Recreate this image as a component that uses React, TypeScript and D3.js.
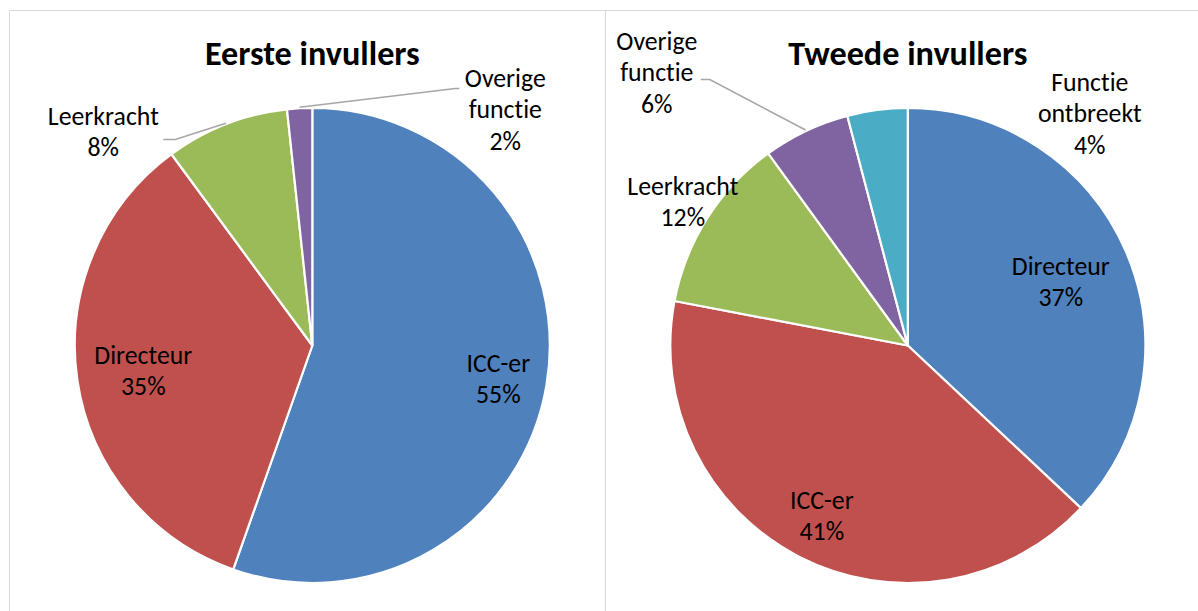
import React from "react";
import * as d3 from "d3";

// ---------- data ----------
const pie1Title = "Eerste invullers";
const pie1Categories = ["ICC-er", "Directeur", "Leerkracht", "Overige functie"];
const pie1Values = [55.4, 34.5, 8.4, 1.7];
const pie1Labels = ["55%", "35%", "8%", "2%"];

const pie2Title = "Tweede invullers";
const pie2Categories = ["Directeur", "ICC-er", "Leerkracht", "Overige functie", "Functie ontbreekt"];
const pie2Values = [37.0, 41.0, 12.0, 5.9, 4.1];
const pie2Labels = ["37%", "41%", "12%", "6%", "4%"];

const pie1Colors = ["#4F81BD", "#C0504D", "#9BBB59", "#8064A2"];
const pie2Colors = ["#4F81BD", "#C0504D", "#9BBB59", "#8064A2", "#4BACC6"];

// ---------- layout ----------
const W = 1198;
const H = 611;
const R = 237.5;
const FONT = "Carlito, Calibri, Lato, 'Open Sans', sans-serif";

type LabelLayout = { lines: string[]; x: number; y: number; leader?: [number, number][] };

// label positions relative to pie centre (x = text centre, y = first baseline)
const pie1Layout: LabelLayout[] = [
  { lines: ["ICC-er"], x: 186, y: 26 },
  { lines: ["Directeur"], x: -169, y: 18 },
  { lines: ["Leerkracht"], x: -209, y: -221, leader: [[-137, -206], [-149, -206]] },
  { lines: ["Overige", "functie"], x: 193, y: -259, leader: [[143, -257], [147, -257]] },
];
const pie2Layout: LabelLayout[] = [
  { lines: ["Directeur"], x: 153, y: -71 },
  { lines: ["ICC-er"], x: -86, y: 163 },
  { lines: ["Leerkracht"], x: -225, y: -151 },
  { lines: ["Overige", "functie"], x: -251, y: -296, leader: [[-198, -266], [-207, -266]] },
  { lines: ["Functie", "ontbreekt"], x: 182, y: -255 },
];

const LINE_H = 31.5;

function Pie({
  cx, cy, title, values, labels, colors, layout,
}: {
  cx: number; cy: number; title: string; values: number[]; labels: string[]; colors: string[]; layout: LabelLayout[];
}) {
  const pie = d3.pie<number>().sort(null).value((d) => d)(values);
  const arc = d3.arc<d3.PieArcDatum<number>>().innerRadius(0).outerRadius(R);
  return (
    <g transform={`translate(${cx},${cy})`}>
      <text x={0} y={-281} textAnchor="middle" fontFamily={FONT} fontWeight="bold" fontSize={34.2} fill="#000"
        style={{ fontVariantLigatures: "none" }}>
        {title}
      </text>
      {pie.map((p, i) => (
        <path key={i} d={arc(p) || ""} fill={colors[i]} stroke="#fff" strokeWidth={2.2} strokeLinejoin="round" />
      ))}
      {pie.map((p, i) => {
        const L = layout[i];
        if (!L.leader) return null;
        const mid = (p.startAngle + p.endAngle) / 2;
        const sx = Math.sin(mid) * (R + 1);
        const sy = -Math.cos(mid) * (R + 1);
        const pts: [number, number][] = [[sx, sy], ...L.leader];
        return (
          <polyline key={"l" + i} points={pts.map((q) => q.join(",")).join(" ")} fill="none" stroke="#A6A6A6" strokeWidth={1.5} />
        );
      })}
      {layout.map((L, i) => (
        <text key={"t" + i} textAnchor="middle" fontFamily={FONT} fontSize={25.8} fill="#000"
          style={{ fontVariantLigatures: "none" }}>
          {[...L.lines, labels[i]].map((s, k) => (
            <tspan key={k} x={L.x} y={L.y + k * LINE_H}>
              {s}
            </tspan>
          ))}
        </text>
      ))}
    </g>
  );
}

export default function App() {
  return (
    <svg width={W} height={H} style={{ position: "absolute", left: 0, top: 0, background: "#fff" }}>
      <rect x={0} y={0} width={W} height={H} fill="#fff" />
      <line x1={9.5} y1={10.5} x2={W} y2={10.5} stroke="#D9D9D9" strokeWidth={1} />
      <line x1={9.5} y1={10.5} x2={9.5} y2={H} stroke="#D9D9D9" strokeWidth={1} />
      <line x1={605.5} y1={10.5} x2={605.5} y2={H} stroke="#D9D9D9" strokeWidth={1} />
      <Pie cx={312.3} cy={345.5} title={pie1Title} values={pie1Values} labels={pie1Labels} colors={pie1Colors} layout={pie1Layout} />
      <Pie cx={907.8} cy={345.5} title={pie2Title} values={pie2Values} labels={pie2Labels} colors={pie2Colors} layout={pie2Layout} />
    </svg>
  );
}
